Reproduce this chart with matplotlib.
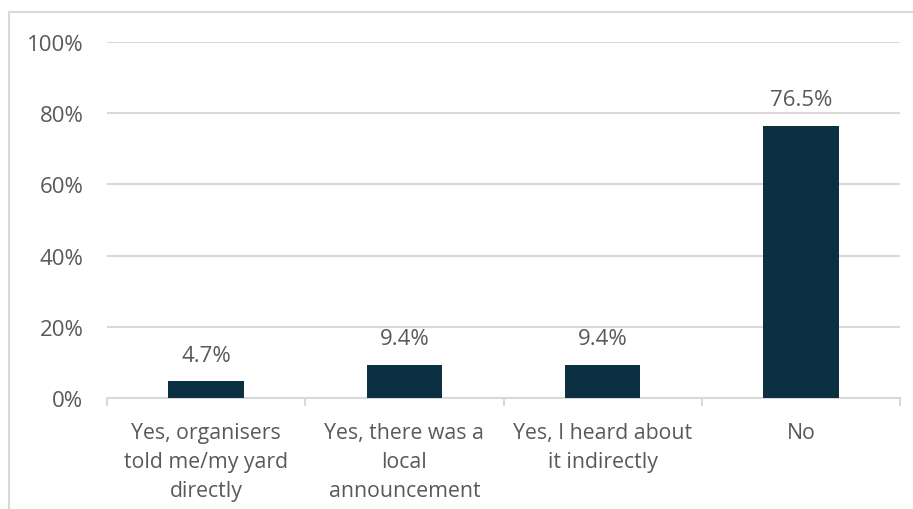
import matplotlib
matplotlib.use("Agg")
import matplotlib.pyplot as plt
from matplotlib.patches import Rectangle
import numpy as np

categories = ["Yes, organisers\ntold me/my yard\ndirectly",
              "Yes, there was a\nlocal\nannouncement",
              "Yes, I heard about\nit indirectly",
              "No"]
values = [4.7, 9.4, 9.4, 76.5]
yticks = [0, 20, 40, 60, 80, 100]

BAR = "#0d2f42"
GRID = "#d9d9d9"
TEXT = "#595959"
NUM_FS, CAT_FS = 16, 15.3

plt.rcParams.update({
    "font.family": ["Open Sans", "DejaVu Sans"],
    "font.size": CAT_FS,
})

W, H = 913, 510
fig = plt.figure(figsize=(W / 100, H / 100), dpi=100)
# chart frame (runs off the right and bottom edge)
fig.patches.append(Rectangle((9 / W, -0.1), 1.2, 1 - 13 / H + 0.1,
                             transform=fig.transFigure, fill=False,
                             edgecolor=GRID, lw=1.5))

ax = fig.add_axes([107 / W, 1 - 399 / H, (900 - 107) / W, (399 - 43) / H])
x = np.arange(len(values))
ax.bar(x, values, width=0.38, color=BAR, zorder=3)
for xi, v in zip(x, values):
    ax.annotate(f"{v:.1f}%", (xi, v), xytext=(0, 11), textcoords="offset points",
                ha="center", va="bottom", color=TEXT, fontsize=NUM_FS)

ax.set_xlim(-0.5, len(values) - 0.5)
ax.set_ylim(0, 100)
ax.set_yticks(yticks)
ax.set_yticklabels([f"{t}%" for t in yticks])
ax.yaxis.grid(True, color=GRID, lw=1.5, zorder=0)
ax.tick_params(axis="y", length=0, pad=17, colors=TEXT, labelsize=NUM_FS)

ax.set_xticks(np.arange(-0.5, len(values)), minor=False)
ax.set_xticklabels([])
ax.set_xticks(x, minor=True)
ax.set_xticklabels(categories, minor=True, color=TEXT, fontsize=CAT_FS,
                   linespacing=1.5)
ax.tick_params(axis="x", which="major", length=6, color=GRID, width=1.5)
ax.tick_params(axis="x", which="minor", length=0, pad=17)

for s in ("top", "right", "left"):
    ax.spines[s].set_visible(False)
ax.spines["bottom"].set_color(GRID)
ax.spines["bottom"].set_linewidth(1.5)

fig.savefig("out.png", dpi=100)
